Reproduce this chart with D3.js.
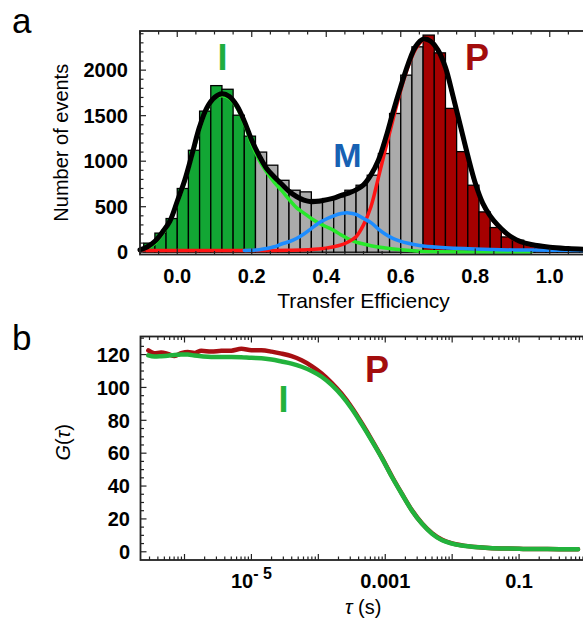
<!DOCTYPE html>
<html>
<head>
<meta charset="utf-8">
<script src="https://cdn.jsdelivr.net/npm/d3@7"></script>
<style>
  body { margin: 0; background: #fff; }
  svg { display: block; }
  text { font-family: "Liberation Sans", Arial, sans-serif; }
</style>
</head>
<body>
<svg id="fig" width="583" height="626"></svg>
<script>
// ---------- Panel a: transfer-efficiency histogram ----------
const binEdges = [-0.09, -0.06, -0.03, 0.00, 0.03, 0.06, 0.09, 0.12, 0.15, 0.18,
                  0.21, 0.24, 0.27, 0.30, 0.33, 0.36, 0.39, 0.42, 0.45, 0.48,
                  0.51, 0.54, 0.57, 0.60, 0.63, 0.66, 0.69, 0.72, 0.75, 0.78,
                  0.81, 0.84, 0.87, 0.90, 0.93, 0.96, 0.99, 1.02, 1.05, 1.08];
const binCounts = [100, 210, 370, 700, 1120, 1550, 1830, 1790, 1505, 1275,
                   1100, 956, 790, 681, 663, 579, 590, 608, 681, 736,
                   846, 1084, 1524, 1945, 2256, 2385, 2190, 1580, 1105, 736,
                   443, 271, 168, 132, 95, 66, 52, 40, 30, 25];
const binWidth = 0.03;
// efficiency windows used to select the two subpopulations
const selectionI = [-0.09, 0.21];
const selectionP = [0.66, 1.11];

// fitted components and their sum
const fitTotalE = [-0.10, -0.08, -0.06, -0.04, -0.02, 0.00, 0.02, 0.04, 0.06, 0.08, 0.10, 0.12, 0.14, 0.16, 0.18,
                   0.20, 0.22, 0.24, 0.26, 0.28, 0.30, 0.32, 0.34, 0.36, 0.38, 0.40, 0.42, 0.44, 0.46, 0.48,
                   0.50, 0.52, 0.54, 0.56, 0.58, 0.60, 0.62, 0.64, 0.66, 0.68, 0.70, 0.72, 0.74, 0.76, 0.78,
                   0.80, 0.82, 0.84, 0.86, 0.88, 0.90, 0.92, 0.95, 1.00, 1.05, 1.10];
const fitTotalN = [25, 60, 120, 220, 340, 560, 790, 1080, 1380, 1590, 1700, 1740, 1710, 1610, 1440,
                   1230, 1060, 920, 830, 750, 670, 612, 572, 555, 560, 575, 595, 625, 650, 685,
                   740, 850, 1010, 1260, 1550, 1820, 2070, 2260, 2340, 2320, 2220, 2030, 1720, 1390, 1060,
                   760, 540, 400, 300, 220, 160, 120, 85, 55, 40, 30];
const fitIE = [-0.10, -0.08, -0.06, -0.04, -0.02, 0.00, 0.02, 0.04, 0.06, 0.08, 0.10, 0.12, 0.14, 0.16, 0.18,
               0.20, 0.22, 0.24, 0.26, 0.28, 0.30, 0.32, 0.34, 0.36, 0.38, 0.40, 0.42, 0.44, 0.46, 0.48,
               0.50, 0.52, 0.55, 0.60, 0.65, 0.70, 0.80, 0.95];
const fitIN = [20, 45, 100, 200, 330, 540, 770, 1060, 1350, 1570, 1690, 1720, 1690, 1590, 1410,
               1190, 1010, 880, 770, 680, 580, 490, 430, 370, 320, 280, 240, 190, 145, 110,
               90, 72, 52, 28, 12, 6, 3, 2];
const fitME = [0.18, 0.20, 0.22, 0.24, 0.26, 0.28, 0.30, 0.32, 0.34, 0.36, 0.38, 0.40, 0.42, 0.44, 0.46,
               0.48, 0.50, 0.52, 0.54, 0.56, 0.58, 0.60, 0.62, 0.65, 0.70, 0.80, 0.90, 1.00, 1.10];
const fitMN = [20, 22, 28, 40, 60, 90, 115, 150, 200, 260, 320, 365, 400, 425, 432,
               415, 370, 325, 255, 195, 150, 120, 98, 75, 55, 35, 25, 22, 20];
const fitPE = [-0.10, 0.30, 0.38, 0.42, 0.44, 0.46, 0.48, 0.50, 0.52, 0.54, 0.56, 0.58, 0.60, 0.62, 0.64,
               0.66, 0.68, 0.70, 0.72, 0.74, 0.76, 0.78, 0.80, 0.82, 0.84, 0.86, 0.88, 0.90, 0.95, 1.00, 1.10];
const fitPN = [20, 22, 35, 60, 80, 115, 170, 300, 500, 820, 1150, 1470, 1780, 2040, 2230,
               2330, 2330, 2210, 2020, 1710, 1380, 1050, 750, 530, 390, 290, 210, 150, 75, 45, 25];

const effTicks = [0.0, 0.2, 0.4, 0.6, 0.8, 1.0];
const countTicks = [0, 500, 1000, 1500, 2000];

// ---------- Panel b: FCS correlation curves ----------
const tau = [2.88e-7, 3.55e-7, 4.47e-7, 5.62e-7, 7.08e-7, 8.91e-7, 1.12e-6, 1.41e-6, 1.78e-6, 2.51e-6,
             3.55e-6, 5.01e-6, 7.08e-6, 1.0e-5, 1.41e-5, 2.0e-5, 2.82e-5, 3.98e-5, 5.62e-5, 7.94e-5,
             1.12e-4, 1.58e-4, 2.24e-4, 3.16e-4, 4.47e-4, 6.31e-4, 8.91e-4, 1.26e-3, 1.78e-3, 2.51e-3,
             3.55e-3, 5.01e-3, 7.08e-3, 0.01, 0.0158, 0.0251, 0.0398, 0.0631, 0.1, 0.2, 0.4, 0.76];
const gP = [122.5, 120.8, 121.2, 120.4, 119.2, 120.8, 121.6, 121.0, 122.3, 121.8,
            122.3, 122.4, 123.5, 122.7, 122.6, 121.8, 120.6, 119.0, 116.5, 113.0,
            108.5, 102.8, 96.0, 87.8, 78.2, 68.0, 57.3, 45.8, 35.2, 25.2,
            17.2, 11.3, 7.3, 5.1, 3.6, 2.7, 2.2, 2.0, 1.8, 1.7, 1.6, 1.6];
const gI = [119.5, 118.8, 119.0, 119.3, 119.8, 120.0, 120.0, 119.4, 119.0, 118.6,
            118.6, 118.6, 118.4, 118.0, 117.8, 117.0, 115.8, 114.5, 112.6, 110.0,
            106.5, 101.5, 95.0, 87.0, 77.5, 67.5, 57.0, 45.5, 35.0, 25.0,
            17.0, 11.0, 7.0, 5.0, 3.5, 2.7, 2.2, 2.0, 1.8, 1.7, 1.6, 1.6];
const gTicks = [0, 20, 40, 60, 80, 100, 120];
const tauTicks = [1e-5, 1e-3, 0.1];

// ---------- drawing ----------
const svg = d3.select("#fig");
const col = {
  barI: "#12a634", barGap: "#ababab", barP: "#a50000",
  fitI: "#27e82a", fitM: "#1c8cff", fitP: "#ff1414", fitTot: "#000",
  textI: "#1fae3f", textM: "#1761b3", textP: "#a30d0d",
  lineP: "#a60f12", lineI: "#22b23c"
};

// panel letters
svg.append("text").attr("x", 12).attr("y", 33).attr("font-size", 35).text("a");
svg.append("text").attr("x", 12).attr("y", 350).attr("font-size", 35).text("b");

// ===== Panel a =====
const xa = d3.scaleLinear().domain([-0.1, 1.1]).range([140, 587]);
const ya = d3.scaleLinear().domain([-25, 2430]).range([254.5, 31]);
const ga = svg.append("g");

const bins = binEdges.map((e, i) => ({ e, n: binCounts[i] }));
function binColor(e) {
  if (e >= selectionI[0] - 1e-9 && e < selectionI[1] - 1e-9) return col.barI;
  if (e >= selectionP[0] - 1e-9 && e < selectionP[1] - 1e-9) return col.barP;
  return col.barGap;
}
ga.selectAll("rect.bar").data(bins).join("rect")
  .attr("class", "bar")
  .attr("x", d => xa(d.e))
  .attr("width", d => xa(d.e + binWidth) - xa(d.e))
  .attr("y", d => ya(d.n))
  .attr("height", d => ya(0) - ya(d.n))
  .attr("fill", d => binColor(d.e))
  .attr("stroke", "#000").attr("stroke-width", 1.3);

const lineA = d3.line().x(d => xa(d[0])).y(d => ya(d[1])).curve(d3.curveCatmullRom.alpha(0.5));
function fitCurve(E, N, color, w) {
  ga.append("path").datum(E.map((e, i) => [e, N[i]]))
    .attr("d", lineA).attr("fill", "none")
    .attr("stroke", color).attr("stroke-width", w)
    .attr("stroke-linejoin", "round").attr("stroke-linecap", "round");
}
fitCurve(fitIE, fitIN, col.fitI, 3.5);
fitCurve(fitPE, fitPN, col.fitP, 3.5);
fitCurve(fitME, fitMN, col.fitM, 3.5);
fitCurve(fitTotalE, fitTotalN, col.fitTot, 5);

// frame and inward ticks
const [ax0, ax1] = xa.range(), [ay0, ay1] = ya.range();
ga.append("rect").attr("x", ax0).attr("y", ay1).attr("width", ax1 - ax0).attr("height", ay0 - ay1)
  .attr("fill", "none").attr("stroke", "#222").attr("stroke-width", 1.8);
const tk = ga.append("g").attr("stroke", "#222").attr("stroke-width", 1.2);
d3.range(0, 2401, 100).forEach(v => {
  const len = v % 500 === 0 ? 6 : 3.5;
  tk.append("line").attr("x1", ax0).attr("x2", ax0 + len).attr("y1", ya(v)).attr("y2", ya(v));
});
d3.range(-2, 23).forEach(k => {
  const v = k * 0.05;
  const len = k % 4 === 0 ? 6 : 3.5;
  tk.append("line").attr("x1", xa(v)).attr("x2", xa(v)).attr("y1", ay1).attr("y2", ay1 + len);
  tk.append("line").attr("x1", xa(v)).attr("x2", xa(v)).attr("y1", ay0).attr("y2", ay0 - len);
});

ga.selectAll("text.yl").data(countTicks).join("text")
  .attr("class", "yl").attr("x", 128).attr("y", d => ya(d)).attr("dy", "0.36em")
  .attr("text-anchor", "end").attr("font-size", 20).attr("font-weight", "bold").text(d => d);
ga.selectAll("text.xl").data(effTicks).join("text")
  .attr("class", "xl").attr("x", d => xa(d)).attr("y", 283)
  .attr("text-anchor", "middle").attr("font-size", 20).attr("font-weight", "bold").text(d => d.toFixed(1));
ga.append("text").attr("x", (ax0 + ax1) / 2).attr("y", 308).attr("text-anchor", "middle")
  .attr("font-size", 21).text("Transfer Efficiency");
ga.append("text").attr("transform", `translate(68,${(ay0 + ay1) / 2}) rotate(-90)`)
  .attr("text-anchor", "middle").attr("font-size", 20).text("Number of events");

ga.append("text").attr("x", 222.5).attr("y", 69.5).attr("text-anchor", "middle")
  .attr("font-size", 36).attr("font-weight", "bold").attr("fill", col.textI).text("I");
ga.append("text").attr("x", 347.5).attr("y", 167).attr("text-anchor", "middle")
  .attr("font-size", 34).attr("font-weight", "bold").attr("fill", col.textM).text("M");
ga.append("text").attr("x", 477).attr("y", 70).attr("text-anchor", "middle")
  .attr("font-size", 36).attr("font-weight", "bold").attr("fill", col.textP).text("P");

// ===== Panel b =====
const xb = d3.scaleLog().domain([2.2e-7, 1]).range([140.5, 586]);
const yb = d3.scaleLinear().domain([-5, 131]).range([560, 336.5]);
const gb = svg.append("g");
const [bx0, bx1] = xb.range(), [by0, by1] = yb.range();

const lineB = d3.line().x(d => xb(d[0])).y(d => yb(d[1])).curve(d3.curveMonotoneX);
gb.append("path").datum(tau.map((t, i) => [t, gP[i]])).attr("d", lineB)
  .attr("fill", "none").attr("stroke", col.lineP).attr("stroke-width", 4.5)
  .attr("stroke-linejoin", "round").attr("stroke-linecap", "round");
gb.append("path").datum(tau.map((t, i) => [t, gI[i]])).attr("d", lineB)
  .attr("fill", "none").attr("stroke", col.lineI).attr("stroke-width", 4.5)
  .attr("stroke-linejoin", "round").attr("stroke-linecap", "round");

gb.append("rect").attr("x", bx0).attr("y", by1).attr("width", bx1 - bx0).attr("height", by0 - by1)
  .attr("fill", "none").attr("stroke", "#222").attr("stroke-width", 1.8);
const tb = gb.append("g").attr("stroke", "#222").attr("stroke-width", 1.2);
d3.range(0, 131, 5).forEach(v => {
  const len = v % 20 === 0 ? 6 : 3.5;
  tb.append("line").attr("x1", bx0).attr("x2", bx0 + len).attr("y1", yb(v)).attr("y2", yb(v));
});
d3.range(-7, 1).forEach(p => {
  d3.range(1, 10).forEach(m => {
    const t = m * Math.pow(10, p);
    if (t < 2.2e-7 || t > 1) return;
    const len = m === 1 ? 6 : 3.5;
    tb.append("line").attr("x1", xb(t)).attr("x2", xb(t)).attr("y1", by1).attr("y2", by1 + len);
    tb.append("line").attr("x1", xb(t)).attr("x2", xb(t)).attr("y1", by0).attr("y2", by0 - len);
  });
});

gb.selectAll("text.yl").data(gTicks).join("text")
  .attr("class", "yl").attr("x", 130).attr("y", d => yb(d)).attr("dy", "0.36em")
  .attr("text-anchor", "end").attr("font-size", 20).attr("font-weight", "bold").text(d => d);
tauTicks.forEach(t => {
  const lbl = gb.append("text").attr("x", xb(t)).attr("y", 588).attr("text-anchor", "middle")
    .attr("font-size", 20).attr("font-weight", "bold");
  if (t < 1e-4) {
    const p = Math.round(Math.log10(t));
    lbl.append("tspan").text("10");
    lbl.append("tspan").attr("dy", -9).attr("font-size", 16).text("- " + Math.abs(p));
  } else {
    lbl.text(String(t));
  }
});
const xt = gb.append("text").attr("x", (bx0 + bx1) / 2).attr("y", 614).attr("text-anchor", "middle").attr("font-size", 20);
xt.append("tspan").attr("font-style", "italic").text("τ");
xt.append("tspan").text(" (s)");
const yt = gb.append("text").attr("transform", `translate(70,${(by0 + by1) / 2 - 6}) rotate(-90)`)
  .attr("text-anchor", "middle").attr("font-size", 20);
yt.append("tspan").attr("font-style", "italic").text("G");
yt.append("tspan").text("(");
yt.append("tspan").attr("font-style", "italic").text("τ");
yt.append("tspan").text(")");

gb.append("text").attr("x", 283.5).attr("y", 412).attr("text-anchor", "middle")
  .attr("font-size", 36).attr("font-weight", "bold").attr("fill", col.lineI).text("I");
gb.append("text").attr("x", 377).attr("y", 382).attr("text-anchor", "middle")
  .attr("font-size", 36).attr("font-weight", "bold").attr("fill", col.textP).text("P");
</script>
</body>
</html>
